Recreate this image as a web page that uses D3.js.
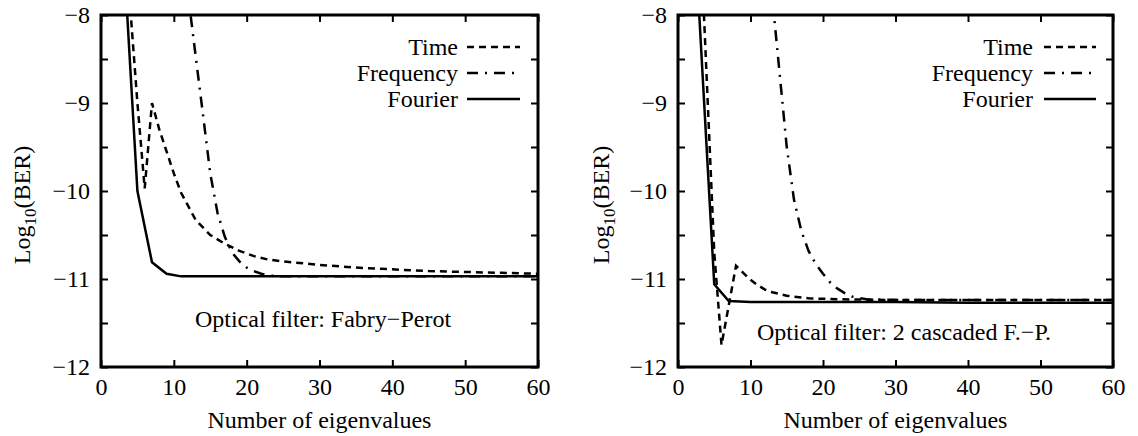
<!DOCTYPE html>
<html>
<head>
<meta charset="utf-8">
<script src="https://cdn.jsdelivr.net/npm/d3@7"></script>
<style>
  body { margin: 0; background: #fff; }
  svg { display: block; }
  text { font-family: "Liberation Serif", "Times New Roman", "DejaVu Serif", serif; fill: #000; }
</style>
</head>
<body>
<svg id="chart" width="1138" height="436"></svg>
<script>
// ---------- data ----------
const xTicks = [0, 10, 20, 30, 40, 50, 60];
const yTicks = [-8, -8.5, -9, -9.5, -10, -10.5, -11, -11.5, -12];
const seriesNames = ["Time", "Frequency", "Fourier"];

// Left panel: Fabry-Perot
const leftTimeX = [3, 4, 5, 6, 7, 8, 9, 10, 11, 13, 15, 17, 19, 21, 23, 25, 30, 35, 40, 45, 50, 55, 60];
const leftTimeY = [-6.7, -7.9, -9.0, -9.97, -9.0, -9.3, -9.55, -9.8, -10.02, -10.33, -10.5, -10.6, -10.68, -10.74, -10.78, -10.8, -10.84, -10.87, -10.89, -10.91, -10.92, -10.93, -10.94];
const leftFreqX = [11, 12, 13, 14, 15, 16, 17, 18, 19, 20, 21, 22, 23, 25, 30, 40, 50, 60];
const leftFreqY = [-7.1, -7.8, -8.47, -9.13, -9.8, -10.25, -10.52, -10.7, -10.8, -10.87, -10.91, -10.94, -10.96, -10.97, -10.97, -10.97, -10.97, -10.97];
const leftFourX = [3, 5, 7, 9, 11, 13, 15, 20, 30, 40, 50, 60];
const leftFourY = [-7.14, -10.0, -10.81, -10.94, -10.97, -10.97, -10.97, -10.97, -10.97, -10.97, -10.97, -10.97];
const leftNote = "Optical filter: Fabry\u2212Perot";

// Right panel: 2 cascaded F.-P.
const rightTimeX = [3, 4, 5, 6, 7, 8, 9, 10, 11, 12, 13, 15, 18, 22, 30, 40, 50, 60];
const rightTimeY = [-6.9, -8.8, -10.7, -11.75, -11.3, -10.85, -10.93, -11.01, -11.07, -11.12, -11.15, -11.19, -11.22, -11.23, -11.24, -11.24, -11.24, -11.24];
const rightFreqX = [12, 13, 14, 15, 16, 17, 18, 19, 20, 21, 22, 23, 24, 26, 30, 40, 50, 60];
const rightFreqY = [-6.95, -7.8, -8.65, -9.5, -10.1, -10.45, -10.68, -10.83, -10.94, -11.04, -11.11, -11.16, -11.2, -11.23, -11.24, -11.24, -11.24, -11.24];
const rightFourX = [2, 5, 7, 10, 20, 30, 40, 50, 60];
const rightFourY = [-6.62, -11.06, -11.25, -11.26, -11.26, -11.26, -11.27, -11.27, -11.27];
const rightNote = "Optical filter: 2 cascaded F.\u2212P.";

const xLabel = "Number of eigenvalues";

// ---------- drawing ----------
const svg = d3.select("#chart");
const FS = "24px";
const styles = {
  Time: "7,5",
  Frequency: "11,7,2,7",
  Fourier: null
};

function zip(xs, ys) { return xs.map((x, i) => [x, ys[i]]); }

function panel(cfg) {
  const x = d3.scaleLinear().domain([0, 60]).range([cfg.left, cfg.right]);
  const y = d3.scaleLinear().domain([-12, -8]).range([cfg.bottom, cfg.top]);
  const g = svg.append("g");

  const clipId = "clip" + cfg.id;
  svg.append("defs").append("clipPath").attr("id", clipId)
    .append("rect").attr("x", cfg.left).attr("y", cfg.top)
    .attr("width", cfg.right - cfg.left).attr("height", cfg.bottom - cfg.top);

  const fmt = d => Number.isInteger(d) ? d3.format("d")(d) : "";

  const ax = [
    g.append("g").attr("transform", `translate(0,${cfg.bottom})`)
      .call(d3.axisBottom(x).tickValues(xTicks).tickSize(-7).tickPadding(11).tickFormat(d3.format("d"))),
    g.append("g").attr("transform", `translate(0,${cfg.top})`)
      .call(d3.axisTop(x).tickValues(xTicks).tickSize(-7).tickFormat("")),
    g.append("g").attr("transform", `translate(${cfg.left},0)`)
      .call(d3.axisLeft(y).tickValues(yTicks).tickSize(-7).tickPadding(11).tickFormat(fmt)),
    g.append("g").attr("transform", `translate(${cfg.right},0)`)
      .call(d3.axisRight(y).tickValues(yTicks).tickSize(-7).tickFormat(""))
  ];
  ax.forEach(a => {
    a.attr("font-family", null).attr("font-size", null);
    a.select(".domain").remove();
    a.selectAll(".tick line").attr("stroke", "#000").attr("stroke-width", 2);
    a.selectAll(".tick text").style("font-size", FS).attr("fill", "#000");
  });

  const line = d3.line().x(d => x(d[0])).y(d => y(d[1]));
  const lg = g.append("g").attr("clip-path", `url(#${clipId})`);
  cfg.series.forEach(s => {
    lg.append("path").datum(zip(s.xs, s.ys))
      .attr("d", line).attr("fill", "none").attr("stroke", "#000")
      .attr("stroke-width", 2.5)
      .attr("stroke-dasharray", styles[s.name])
      .attr("stroke-linejoin", "miter");
  });

  // frame
  g.append("rect").attr("x", cfg.left).attr("y", cfg.top)
    .attr("width", cfg.right - cfg.left).attr("height", cfg.bottom - cfg.top)
    .attr("fill", "none").attr("stroke", "#000").attr("stroke-width", 3);

  // legend
  const legY = [47, 73, 99];
  seriesNames.forEach((n, i) => {
    g.append("text").attr("x", cfg.legTextX).attr("y", legY[i] + 8)
      .attr("text-anchor", "end").style("font-size", FS).text(n);
    g.append("line").attr("x1", cfg.legX1).attr("x2", cfg.legX2)
      .attr("y1", legY[i]).attr("y2", legY[i])
      .attr("stroke", "#000").attr("stroke-width", 2.5)
      .attr("stroke-dasharray", styles[n]);
  });

  // note
  g.append("text").attr("x", cfg.noteX).attr("y", cfg.noteY)
    .attr("text-anchor", "middle").style("font-size", FS).text(cfg.note);

  // x label
  g.append("text").attr("x", (cfg.left + cfg.right) / 2).attr("y", 428)
    .attr("text-anchor", "middle").style("font-size", FS).text(xLabel);

  // y label
  const yl = g.append("text")
    .attr("transform", `translate(${cfg.ylabX},${(cfg.top + cfg.bottom) / 2 + 14}) rotate(-90)`)
    .attr("text-anchor", "middle").style("font-size", FS);
  yl.append("tspan").text("Log");
  yl.append("tspan").attr("dy", 6).style("font-size", "17px").text("10");
  yl.append("tspan").attr("dy", -6).text("(BER)");
}

panel({
  id: "L", left: 101, right: 538, top: 15, bottom: 367,
  legTextX: 458, legX1: 467, legX2: 520,
  noteX: 323, noteY: 327, note: leftNote, ylabX: 30,
  series: [
    { name: "Time", xs: leftTimeX, ys: leftTimeY },
    { name: "Frequency", xs: leftFreqX, ys: leftFreqY },
    { name: "Fourier", xs: leftFourX, ys: leftFourY }
  ]
});

panel({
  id: "R", left: 678, right: 1113, top: 15, bottom: 367,
  legTextX: 1033, legX1: 1044, legX2: 1096,
  noteX: 904, noteY: 340, note: rightNote, ylabX: 609,
  series: [
    { name: "Time", xs: rightTimeX, ys: rightTimeY },
    { name: "Frequency", xs: rightFreqX, ys: rightFreqY },
    { name: "Fourier", xs: rightFourX, ys: rightFourY }
  ]
});
</script>
</body>
</html>
